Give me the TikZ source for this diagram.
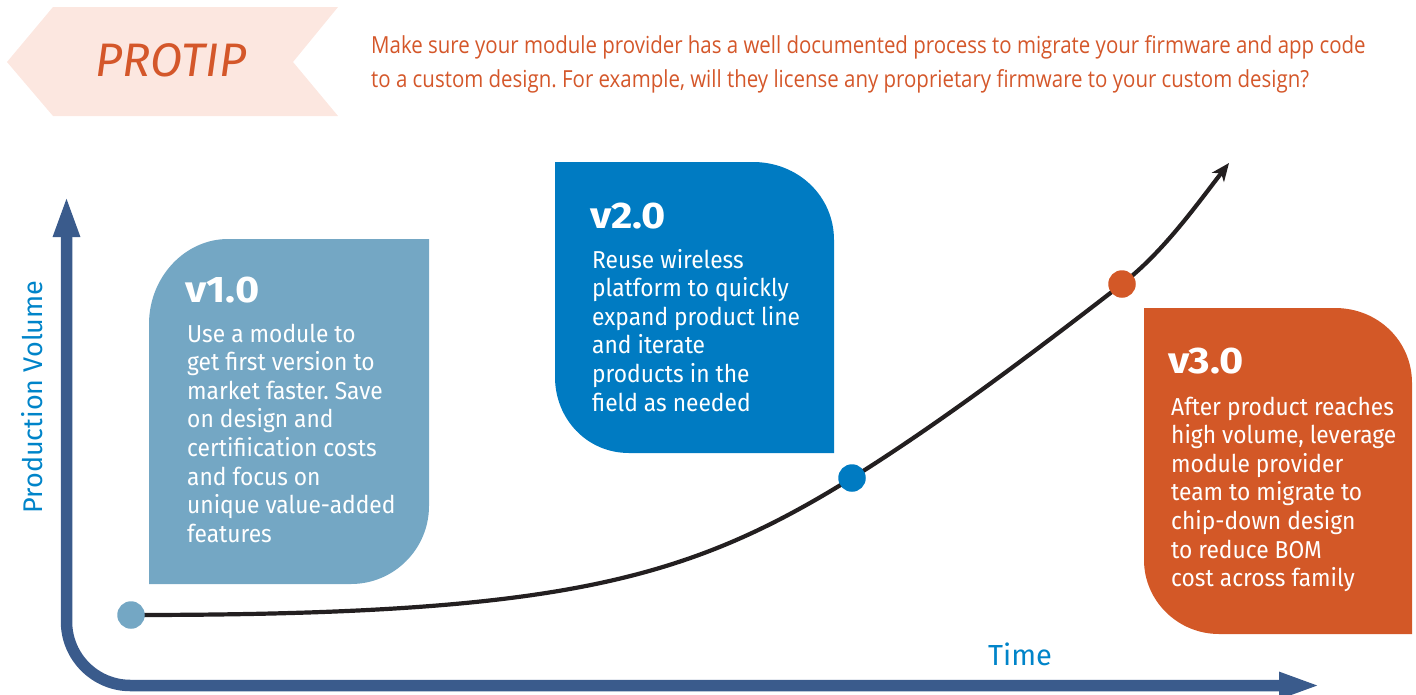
\documentclass[tikz,border=0pt]{standalone}
\usepackage{fontspec}
\setmainfont{Fira Sans}
\newfontfamily\tipfont{Open Sans}[FakeStretch=0.87]
\newfontfamily\bodyfont{Fira Sans}[FakeStretch=0.93]
\newfontfamily\titlefont{Fira Sans}[FakeStretch=1.12]
\usetikzlibrary{arrows.meta}
\frenchspacing

\definecolor{bannerbg}{HTML}{FCE7E0}
\definecolor{tiporange}{HTML}{D4572A}
\definecolor{verone}{HTML}{74A7C4}
\definecolor{vertwo}{HTML}{007BC2}
\definecolor{verthree}{HTML}{D35827}
\definecolor{axisblue}{HTML}{3A5B8C}
\definecolor{labelblue}{HTML}{0084C9}
\definecolor{curveink}{HTML}{231F20}

\pgfdeclarelayer{background}
\pgfsetlayers{background,main}

\tikzset{
  boxtitle/.style={anchor=base west, inner sep=0, text=white,
    font=\titlefont\fontsize{37}{40}\selectfont\bfseries},
  % multi-line bodies are placed by the baseline of their last line
  boxbody/.style={anchor=base west, inner sep=0, text=white, align=left,
    font=\bodyfont\fontsize{24.5}{28.6}\selectfont},
  dot/.style={circle, inner sep=0, minimum size=27.5pt},
  axisline/.style={draw=axisblue, line width=11.5pt, rounded corners=64pt,
    {Triangle[width=24pt,length=42pt]}-{Triangle[width=24pt,length=42pt]}},
  growth/.style={draw=curveink, line width=4.2pt,
    -{Stealth[length=18pt,width=15pt,inset=5pt]}},
  axislabel/.style={text=labelblue, inner sep=0}
}

\begin{document}
\begin{tikzpicture}[x=1pt,y=-1pt]
\useasboundingbox (0,0) rectangle (1416,694);

% pro tip banner
\fill[bannerbg] (7,62) -- (53,7) -- (338,7) -- (293,62) -- (338,116) -- (53,116) -- cycle;
\node[text=tiporange, inner sep=0, font=\fontsize{47}{50}\selectfont\itshape]
  (protip) at (171,60) {PROTIP};
\node[anchor=base west, inner sep=0, text=tiporange, align=left,
  font=\tipfont\fontsize{23.5}{34}\selectfont] (tiptext) at (371,87)
  {Make sure your module provider has a well documented process to migrate your firmware and app code\\
   to a custom design. For example, will they license any proprietary firmware to your custom design?};

% version panels
\fill[verone] (149,584) -- (149,324)
  .. controls (149,277) and (185,239) .. (228,239)
  -- (429,239) -- (429,506)
  .. controls (429,549) and (394,584) .. (351,584) -- cycle;
\fill[vertwo] (555,162) -- (753,162)
  .. controls (798,162) and (834,196) .. (834,240)
  -- (834,453) -- (629,453)
  .. controls (587,453) and (555,419) .. (555,377) -- cycle;
\fill[verthree] (1144,308) -- (1335,308)
  .. controls (1378,308) and (1412,341) .. (1412,383)
  -- (1412,634) -- (1219,634)
  .. controls (1178,634) and (1144,601) .. (1144,560) -- cycle;

\node[boxtitle] (t1) at (185,302) {v1.0};
\node[boxbody] (b1) at (187,542.2) {Use a module to\\get first version to\\market faster. Save\\on design and\\certifiication costs\\and focus on\\unique value-added\\features};
\node[boxtitle] (t2) at (590,228) {v2.0};
\node[boxbody] (b2) at (592,411) {Reuse wireless\\platform to quickly\\expand product line\\and iterate\\products in the\\field as needed};
\node[boxtitle] (t3) at (1168,373) {v3.0};
\node[boxbody] (b3) at (1171,586.6) {After product reaches\\high volume, leverage\\module provider\\team to migrate to\\chip-down design\\to reduce BOM\\cost across family};

% axes
\coordinate (ytop) at (66.5,195);
\coordinate (origin) at (66.5,685.5);
\coordinate (xend) at (1321,685.5);
\draw[axisline] (ytop) -- (origin) -- (xend);
\node[axislabel, anchor=base, rotate=90, font=\fontsize{27}{30}\selectfont]
  (ylabel) at (42,397) {Production Volume};
\node[axislabel, anchor=base west, font=\fontsize{29}{32}\selectfont]
  (xlabel) at (988,665) {Time};

% milestones on the growth curve
\node[dot, fill=verone] (d1) at (131,615) {};
\node[dot, fill=vertwo] (d2) at (852,478) {};
\node[dot, fill=verthree] (d3) at (1122,284) {};
\coordinate (curveend) at (1229,163);
\begin{pgfonlayer}{background}
\draw[growth] (d1.center)
  .. controls (560,615) and (686,581) .. (d2.center)
  .. controls (942,422) and (1042,346) .. (d3.center)
  .. controls (1162,253) and (1194,208.5) .. (curveend);
\end{pgfonlayer}
\end{tikzpicture}
\end{document}
